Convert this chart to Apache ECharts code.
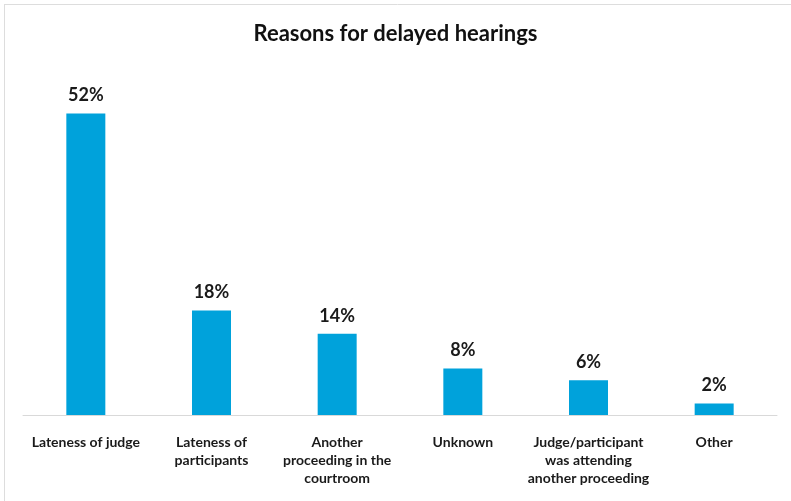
<!DOCTYPE html>
<html>
<head>
<meta charset="utf-8">
<script src="https://cdn.jsdelivr.net/npm/echarts@6/dist/echarts.min.js"></script>
<style>
  html, body { margin: 0; padding: 0; background: #fff; }
  #chart { width: 791px; height: 501px; }
</style>
</head>
<body>
<div id="chart"></div>
<script>
// data
var categories = [
  'Lateness of judge',
  'Lateness of\nparticipants',
  'Another\nproceeding in the\ncourtroom',
  'Unknown',
  'Judge/participant\nwas attending\nanother proceeding',
  'Other'
];
var values = [52, 18, 14, 8, 6, 2];

var barColor = '#00a2db';
var fontFam = 'Lato, "Open Sans", sans-serif';

var chart = echarts.init(document.getElementById('chart'));
var option = {
  animation: false,
  title: {
    text: 'Reasons for delayed hearings',
    left: 'center',
    top: 18,
    textStyle: { fontFamily: fontFam, fontSize: 22, fontWeight: 'bold', color: '#111' }
  },
  graphic: [
    { type: 'line', shape: { x1: 4, y1: 4.5, x2: 791, y2: 4.5 }, style: { stroke: '#ddd', lineWidth: 1 } },
    { type: 'line', shape: { x1: 4.5, y1: 4, x2: 4.5, y2: 501 }, style: { stroke: '#ddd', lineWidth: 1 } }
  ],
  grid: { left: 23, right: 14, top: 67, bottom: 86 },
  xAxis: {
    type: 'category',
    data: categories,
    axisTick: { show: false },
    axisLine: { lineStyle: { color: '#d9d9d9', width: 1 } },
    axisLabel: {
      interval: 0,
      margin: 18,
      fontFamily: fontFam,
      fontSize: 14,
      fontWeight: 'bold',
      color: '#1a1a1a',
      lineHeight: 18,
      align: 'center'
    }
  },
  yAxis: {
    type: 'value',
    min: 0,
    max: 60,
    show: false,
    splitLine: { show: false }
  },
  series: [{
    type: 'bar',
    data: values,
    barWidth: 39,
    itemStyle: { color: barColor },
    label: {
      show: true,
      position: 'top',
      distance: 9,
      formatter: '{c}%',
      fontFamily: fontFam,
      fontSize: 18,
      fontWeight: 'bold',
      color: '#1a1a1a'
    }
  }]
};
chart.setOption(option);
</script>
</body>
</html>
